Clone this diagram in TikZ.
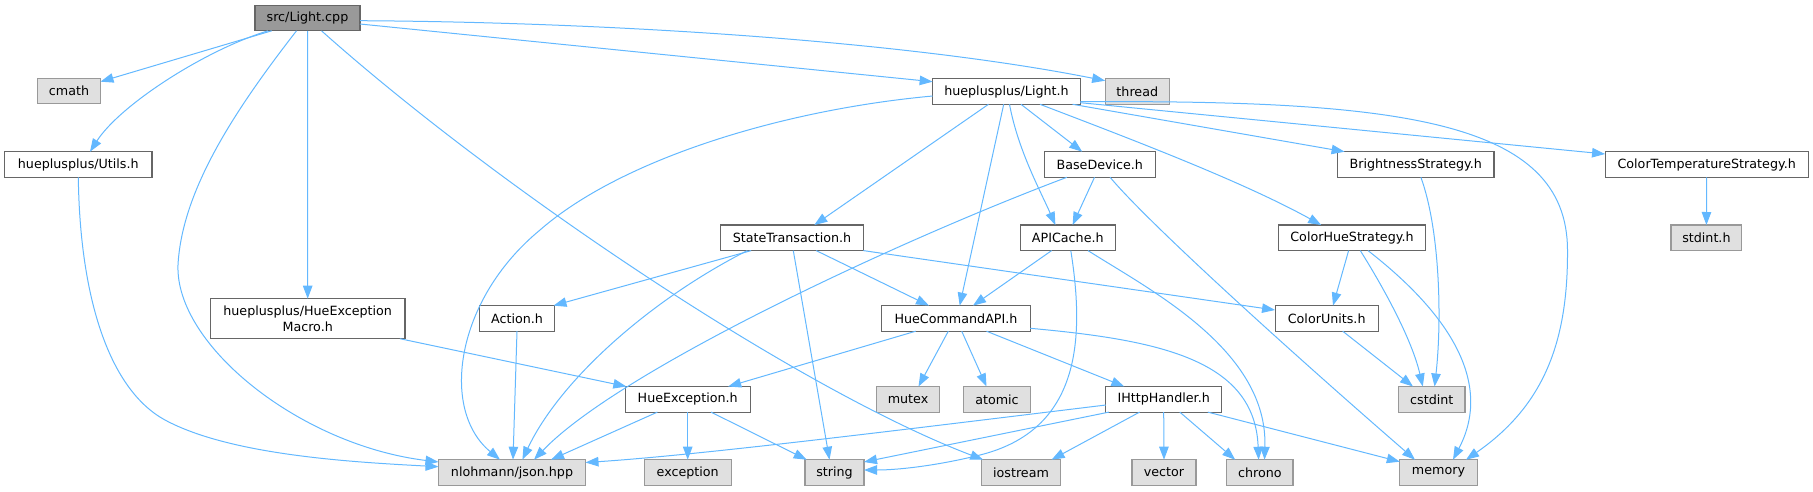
\documentclass[tikz,border=0pt]{standalone}
\usepackage{fontspec}
\setmainfont{DejaVu Sans}
\usetikzlibrary{arrows.meta}
\definecolor{edgeblue}{HTML}{63B8FF}
\definecolor{boxline}{HTML}{666666}
\definecolor{extfill}{HTML}{E0E0E0}
\definecolor{extline}{HTML}{999999}
\definecolor{rootfill}{HTML}{999999}
\begin{document}
\begin{tikzpicture}[x=1pt,y=-1pt,
  box/.style={draw=boxline, fill=white, line width=1.1pt, inner sep=2pt, outer sep=0pt,
    minimum height=25.6pt, font=\fontsize{12.7}{15.5}\selectfont, text=black, align=center},
  ext/.style={box, draw=extline, fill=extfill},
  root/.style={box, fill=rootfill, draw=boxline},
  dep/.style={draw=edgeblue, line width=1pt, -{Triangle[length=13pt,width=9.5pt]}}]
\useasboundingbox (0,0) rectangle (1813,491);

% nodes
\node[root, minimum width=105pt]   (cpp)      at (307.5,18)    {src/Light.cpp};
\node[ext,  minimum width=63pt]    (cmath)    at (69,91)       {cmath};
\node[box,  minimum width=147.3pt] (utils)    at (78.3,164.5)  {hueplusplus/Utils.h};
\node[box,  minimum width=194.5pt, minimum height=40pt] (macro) at (307.7,318.7) {hueplusplus/HueException\\Macro.h};
\node[box,  minimum width=75pt]    (action)   at (517,318.4)   {Action.h};
\node[ext,  minimum width=147pt]   (json)     at (512,472.5)   {nlohmann/json.hpp};
\node[box,  minimum width=147.7pt] (lighth)   at (1006.5,91.5) {hueplusplus/Light.h};
\node[ext,  minimum width=64.3pt]  (thread)   at (1137.3,91.5) {thread};
\node[box,  minimum width=111pt]   (base)     at (1099.8,164.5) {BaseDevice.h};
\node[box,  minimum width=142.7pt] (state)    at (792,237.8)   {StateTransaction.h};
\node[box,  minimum width=94.5pt]  (apicache) at (1067.8,237.8) {APICache.h};
\node[box,  minimum width=148.5pt] (hcapi)    at (956,318.4)   {HueCommandAPI.h};
\node[box,  minimum width=124.7pt] (hueexc)   at (687.7,399.3) {HueException.h};
\node[ext,  minimum width=63.8pt]  (mutex)    at (908,399.3)   {mutex};
\node[ext,  minimum width=67pt]    (atomic)   at (997,399.3)   {atomic};
\node[box,  minimum width=115.6pt] (ihttp)    at (1163.7,399.3) {IHttpHandler.h};
\node[ext,  minimum width=87.3pt]  (exception) at (687.7,472.5) {exception};
\node[ext,  minimum width=59pt]    (string)   at (834.5,472.5) {string};
\node[ext,  minimum width=79.6pt]  (iostream) at (1021,472.5)  {iostream};
\node[ext,  minimum width=64pt]    (vector)   at (1164,472.5)  {vector};
\node[ext,  minimum width=66.4pt]  (chrono)   at (1259.8,472.5) {chrono};
\node[ext,  minimum width=77.4pt]  (memory)   at (1438.5,472.5) {memory};
\node[box,  minimum width=156.4pt] (bright)   at (1415.8,164.5) {BrightnessStrategy.h};
\node[box,  minimum width=203.3pt] (ctemp)    at (1706.7,164.5) {ColorTemperatureStrategy.h};
\node[ext,  minimum width=70.8pt]  (stdint)   at (1706.4,237.8) {stdint.h};
\node[box,  minimum width=146.2pt] (chue)     at (1352,237.8)  {ColorHueStrategy.h};
\node[box,  minimum width=103.3pt] (cunits)   at (1326.7,318.4) {ColorUnits.h};
\node[ext,  minimum width=66.4pt]  (cstdint)  at (1431.8,399.3) {cstdint};

% edges from src/Light.cpp
\draw[dep] ([xshift=-35.8pt]cpp.south) -- (cmath);
\draw[dep] ([xshift=-39.5pt]cpp.south) .. controls (205,50) and (120,105) .. ([xshift=11.7pt]utils.north);
\draw[dep] ([xshift=-11pt]cpp.south) .. controls (235,110) and (182,190) .. (178,265)
           .. controls (175,345) and (300,445) .. ([yshift=10.5pt]json.west);
\draw[dep] (cpp.south) -- (macro.north);
\draw[dep] ([xshift=14pt]cpp.south) .. controls (500,190) and (800,390) .. ([xshift=2pt]iostream.north west);
\draw[dep] ([yshift=-6pt]cpp.east) -- ([yshift=-3pt]lighth.north west);
\draw[dep] ([yshift=-2.7pt]cpp.east) .. controls (600,22) and (900,40) .. ([yshift=-2pt]thread.north west);

% Utils, Macro, Action
\draw[dep] (utils.south) .. controls (80,300) and (110,390) .. (165,420)
           .. controls (230,455) and (350,462) .. ([yshift=5.8pt]json.west);
\draw[dep] ([xshift=-5pt]macro.south east) -- ([xshift=1pt]hueexc.north west);
\draw[dep] (action.south) -- ([xshift=1pt]json.north);

% hueplusplus/Light.h
\draw[dep] ([yshift=-4.5pt]lighth.west) .. controls (780,110) and (620,160) .. (540,230)
           .. controls (455,300) and (440,410) .. ([xshift=-12pt]json.north);
\draw[dep] ([xshift=-18pt]lighth.south) -- ([xshift=22.3pt]state.north);
\draw[dep] ([xshift=-2.8pt]lighth.south) -- ([xshift=3.7pt]hcapi.north);
\draw[dep] ([xshift=3pt]lighth.south) .. controls (1018,150) and (1040,190) .. ([xshift=-12.4pt]apicache.north);
\draw[dep] ([xshift=14.5pt]lighth.south) -- ([xshift=-17.6pt]base.north);
\draw[dep] ([xshift=33.5pt]lighth.south) .. controls (1120,135) and (1240,180) .. ([xshift=-30.8pt]chue.north);
\draw[dep] ([xshift=-7.8pt]lighth.south east) -- ([xshift=7pt]bright.north west);
\draw[dep] ([yshift=-11.2pt]lighth.east) -- ([yshift=-2.3pt]ctemp.north west);
\draw[dep] ([yshift=-10.2pt]lighth.east) .. controls (1400,100) and (1567,120) .. (1567.5,250)
           .. controls (1568,340) and (1545,405) .. ([xshift=27.5pt]memory.north);

% BaseDevice.h
\draw[dep] ([xshift=-32.9pt]base.south) .. controls (900,240) and (620,370) .. ([xshift=22pt]json.north);
\draw[dep] ([xshift=-5.3pt]base.south) -- ([xshift=4.8pt]apicache.north);
\draw[dep] ([xshift=10.3pt]base.south) .. controls (1150,225) and (1300,360) .. ([xshift=-23.5pt]memory.north);

% StateTransaction.h
\draw[dep] ([xshift=-40.8pt]state.south) -- ([xshift=-1pt]action.north east);
\draw[dep] ([xshift=-44.7pt]state.south) .. controls (650,300) and (560,380) .. ([xshift=10.4pt]json.north);
\draw[dep] ([xshift=1.3pt]state.south) -- ([xshift=-5pt]string.north);
\draw[dep] ([xshift=24.2pt]state.south) -- ([xshift=-27pt]hcapi.north);
\draw[dep] (state.south east) -- ([yshift=8.4pt]cunits.west);

% APICache.h
\draw[dep] ([xshift=-16.2pt]apicache.south) -- ([xshift=17pt]hcapi.north);
\draw[dep] ([xshift=3pt]apicache.south) .. controls (1085,340) and (1080,430) .. (980,455)
           .. controls (940,465) and (900,470) .. ([yshift=2.5pt]string.east);
\draw[dep] ([xshift=20.2pt]apicache.south) .. controls (1150,290) and (1268,350) .. ([xshift=4.7pt]chrono.north);

% HueCommandAPI.h
\draw[dep] ([xshift=-40.3pt]hcapi.south) -- ([xshift=40.5pt]hueexc.north);
\draw[dep] ([xshift=-7.7pt]hcapi.south) -- ([xshift=10.5pt]mutex.north);
\draw[dep] ([xshift=5.7pt]hcapi.south) -- ([xshift=-10.5pt]atomic.north);
\draw[dep] ([xshift=30.5pt]hcapi.south) -- ([xshift=-39.4pt]ihttp.north);
\draw[dep] ([yshift=-9.9pt]hcapi.east) .. controls (1160,340) and (1255,360) .. ([xshift=-1.2pt]chrono.north);

% HueException.h
\draw[dep] (hueexc.south) -- (exception.north);
\draw[dep] ([xshift=23.3pt]hueexc.south) -- ([xshift=1.7pt]string.north west);
\draw[dep] ([xshift=-30.3pt]hueexc.south) -- ([xshift=39pt]json.north);

% IHttpHandler.h
\draw[dep] ([yshift=-5.7pt]ihttp.west) .. controls (900,430) and (700,455) .. ([yshift=10pt]json.east);
\draw[dep] ([xshift=-54.7pt]ihttp.south) -- ([yshift=10.5pt]string.east);
\draw[dep] ([xshift=-24.1pt]ihttp.south) -- ([xshift=30.6pt]iostream.north);
\draw[dep] (ihttp.south) -- (vector.north);
\draw[dep] ([xshift=16.1pt]ihttp.south) -- ([xshift=-24.6pt]chrono.north);
\draw[dep] ([xshift=44.1pt]ihttp.south) -- ([yshift=-2pt]memory.north west);

% ColorHueStrategy.h, BrightnessStrategy.h, ColorUnits.h, ColorTemperatureStrategy.h
\draw[dep] ([xshift=-3.4pt]chue.south) -- ([xshift=6.3pt]cunits.north);
\draw[dep] ([xshift=8.3pt]chue.south) .. controls (1385,290) and (1412,340) .. ([xshift=-9pt]cstdint.north);
\draw[dep] ([xshift=16pt]chue.south) .. controls (1425,295) and (1500,370) .. ([xshift=14.5pt]memory.north);
\draw[dep] ([xshift=5.1pt]bright.south) .. controls (1440,230) and (1442,320) .. ([xshift=2.8pt]cstdint.north);
\draw[dep] ([xshift=16pt]cunits.south) -- ([xshift=-18.8pt]cstdint.north);
\draw[dep] (ctemp.south) -- (stdint.north);
\end{tikzpicture}
\end{document}
